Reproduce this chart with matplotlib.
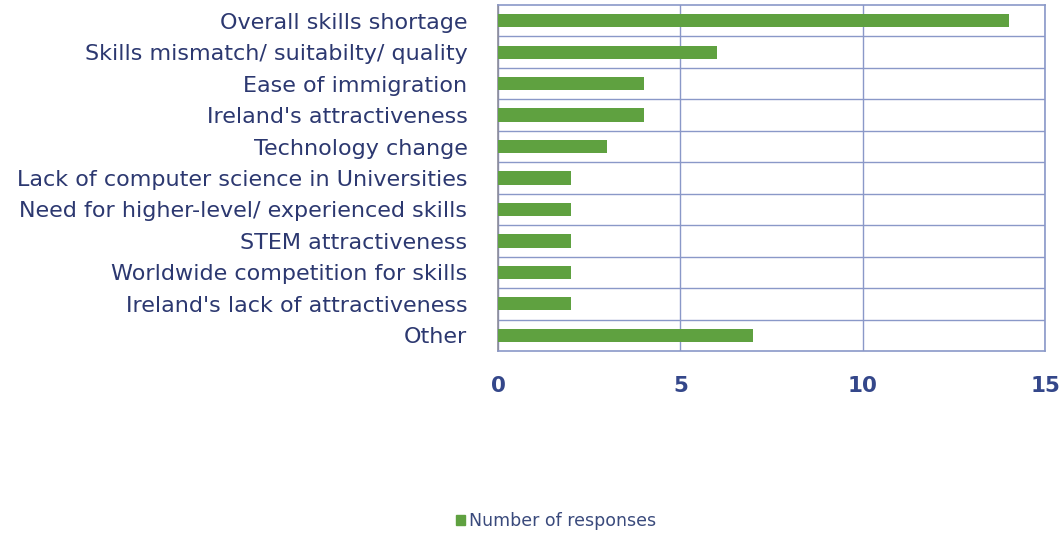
import matplotlib
matplotlib.use("Agg")
import matplotlib.pyplot as plt
from matplotlib.patches import Patch
from matplotlib.ticker import FixedLocator

categories = [
    "Overall skills shortage",
    "Skills mismatch/ suitabilty/ quality",
    "Ease of immigration",
    "Ireland's attractiveness",
    "Technology change",
    "Lack of computer science in Universities",
    "Need for higher-level/ experienced skills",
    "STEM attractiveness",
    "Worldwide competition for skills",
    "Ireland's lack of attractiveness",
    "Other",
]
responses = [14, 6, 4, 4, 3, 2, 2, 2, 2, 2, 7]
x_ticks = [0, 5, 10, 15]
series_name = "Number of responses"

navy = "#2c3870"
grid_col = "#8a98c8"
bar_col = "#5fa140"

plt.rcParams["font.family"] = ["DejaVu Sans"]

fig = plt.figure(figsize=(10.59, 5.34), dpi=100)
ax = fig.add_axes([0.4703, 0.3427, 0.9868 - 0.4703, 0.9906 - 0.3427])

ypos = list(range(len(categories)))
ax.barh(ypos, responses, height=0.42, color=bar_col, zorder=3)

ax.set_xlim(0, 15)
ax.set_ylim(len(categories) - 0.5, -0.5)

ax.set_yticks(ypos)
ax.set_yticklabels(categories, fontsize=16, color=navy)
ax.tick_params(axis="y", length=0, pad=22)

ax.set_xticks(x_ticks)
ax.set_xticklabels([str(t) for t in x_ticks], fontsize=15.5, fontweight="bold",
                   color="#34478a")
ax.tick_params(axis="x", length=0, pad=18)

# category separators and value gridlines
ax.yaxis.set_minor_locator(FixedLocator([i + 0.5 for i in range(len(categories) - 1)]))
ax.grid(True, which="minor", axis="y", color=grid_col, linewidth=1.0, zorder=1)
ax.grid(True, which="major", axis="x", color=grid_col, linewidth=1.0, zorder=1)
ax.tick_params(axis="y", which="minor", length=0)

for s in ax.spines.values():
    s.set_color(grid_col)
    s.set_linewidth(1.2)
ax.spines["left"].set_color("#8c8c9c")

fig.legend(handles=[Patch(color=bar_col, label=series_name)],
           loc="center", bbox_to_anchor=(0.525, 1 - 521 / 534),
           frameon=False, fontsize=12.5, handlelength=0.55, handleheight=0.55,
           handletextpad=0.2, labelcolor="#3a4a7c")

fig.savefig("out.png", dpi=100)
